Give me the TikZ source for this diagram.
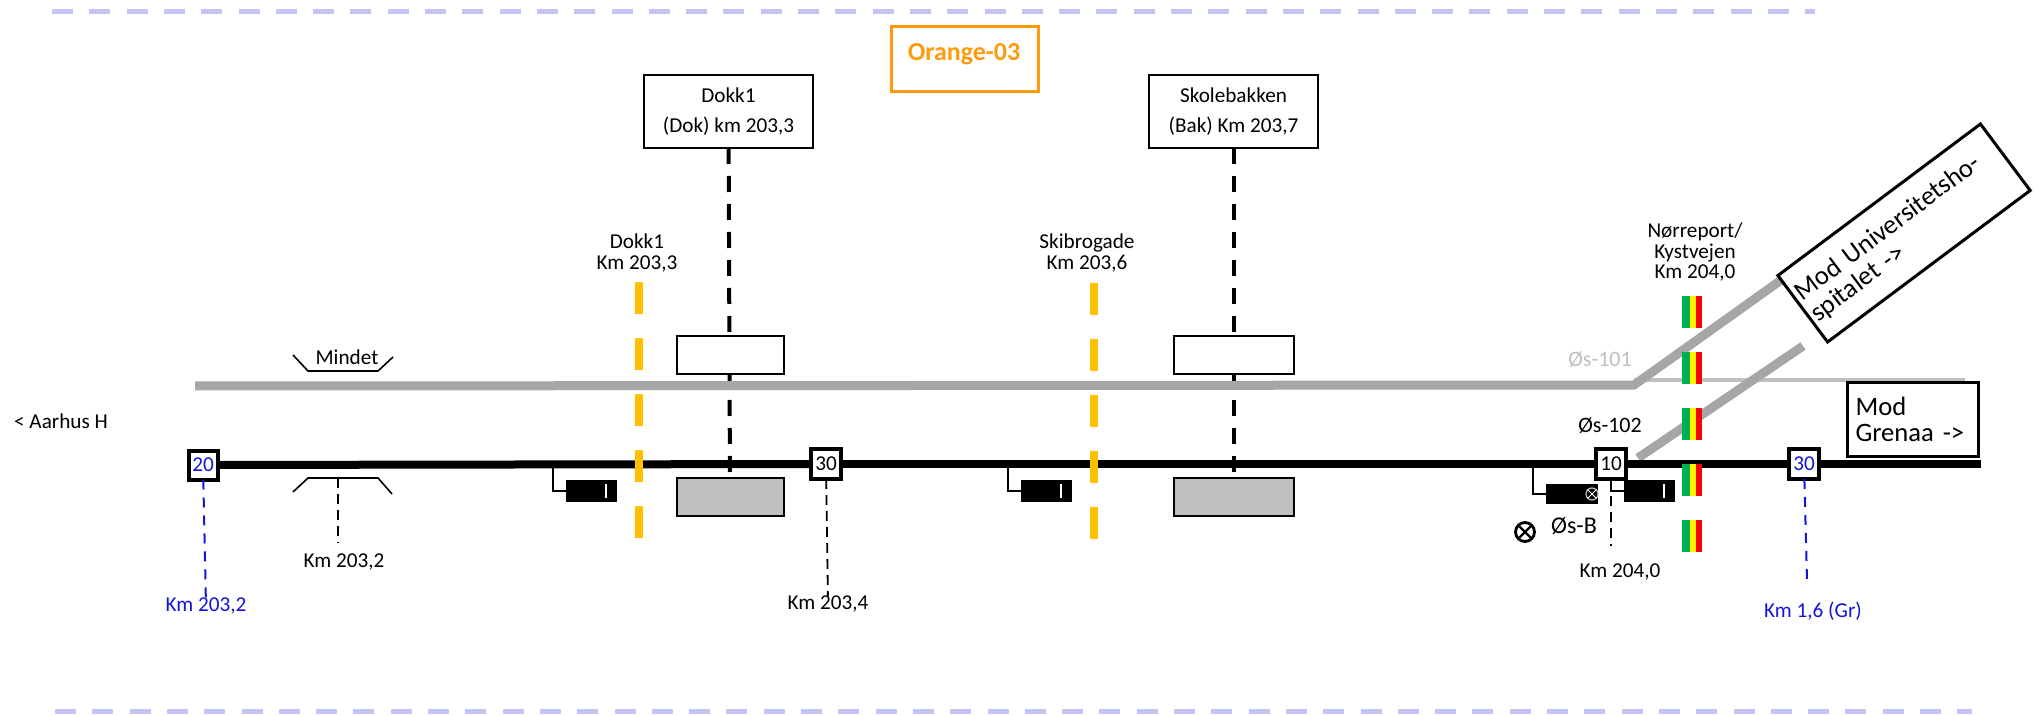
\documentclass[tikz,border=0pt]{standalone}
\usepackage{fontspec}
\setmainfont{Carlito}
\usepackage{tikz}
\usetikzlibrary{positioning}
\definecolor{zonecol}{HTML}{C4C4F6}
\definecolor{orangecol}{HTML}{FF9A0D}
\definecolor{ambercol}{HTML}{FFC000}
\definecolor{trackgray}{HTML}{A6A6A6}
\definecolor{palegray}{HTML}{BFBFBF}
\definecolor{kmblue}{HTML}{1414D8}
\definecolor{siggreen}{HTML}{00B050}
\newcommand{\sz}[1]{\fontsize{#1}{#1}\selectfont}
\tikzstyle{every node}=[font=\sz{10.6},inner sep=0pt,outer sep=0pt]
\tikzstyle{zone}=[zonecol,line width=2.5pt,dash pattern=on 10.5pt off 8.15pt]
\tikzstyle{station}=[draw,line width=1.25pt,fill=white,rectangle,minimum width=84.5pt,minimum height=36.5pt,align=center]
\tikzstyle{platform}=[draw,line width=1pt,rectangle,minimum height=19pt]
\tikzstyle{post}=[draw,line width=2pt,fill=white,rectangle,minimum size=15pt]
\tikzstyle{signal}=[fill=black,rectangle,minimum width=25.5pt,minimum height=11pt]
\tikzstyle{lead}=[line width=.8pt]
\tikzstyle{stationline}=[line width=2pt,dash pattern=on 8pt off 6pt]
\tikzstyle{kmline}=[line width=.9pt,dash pattern=on 5pt off 3pt]
\tikzstyle{blueline}=[kmblue,line width=1pt,dash pattern=on 5pt off 4pt]
\tikzstyle{crossing}=[line width=4pt,dash pattern=on 16pt off 12pt]
\tikzstyle{branch}=[trackgray,line width=4.5pt]
\begin{document}
\begin{tikzpicture}[x=.5pt,y=-.5pt]
    \useasboundingbox (0,0) rectangle (2044,716);
    % zone limits
    \coordinate (zt1) at (52,12);
    \coordinate (zt2) at (1815,12);
    \coordinate (zb1) at (55,711);
    \coordinate (zb2) at (1972,711);
    \draw[zone] (zt1) -- (zt2);
    \draw[zone] (zb1) -- (zb2);
    \node[draw=orangecol,line width=1.5pt,minimum width=73.5pt,minimum height=32.5pt] (title) at (964.5,59.5) {};
    \node[orangecol,font=\sz{13}\bfseries] (titletext) at (964,54) {Orange-03};
    % stations
    \node[station] (dok) at (728.5,111.5) {Dokk1\\[4.6pt](Dok) km 203,3};
    \node[station] (bak) at (1233.5,111.5) {Skolebakken\\[4.6pt](Bak) Km 203,7};
    \node[platform,fill=palegray,minimum width=53.5pt] (dokb) at (730,497) {};
    \node[platform,fill=palegray,minimum width=60pt] (bakb) at (1233.5,497) {};
    \draw[stationline] (dok) -- (dokb);
    \draw[stationline] (bak) -- (bakb);
    \node[platform,fill=white,minimum width=53.5pt] (doka) at (730,355) {};
    \node[platform,fill=white,minimum width=60pt] (baka) at (1233.5,355) {};
    % upper track
    \coordinate (up0) at (195,386);
    \coordinate (sw) at (1634,385);
    \coordinate (sw2) at (1634,380);
    \coordinate (uni1) at (1798,268);
    \coordinate (uni2) at (1803,346);
    \coordinate (gren) at (1965,380);
    \coordinate (sw1) at (1638,458);
    \draw[palegray,line width=2pt] (sw2) -- (gren);
    \draw[branch] (up0) -- (sw) -- (uni1);
    \draw[branch] (sw1) -- (uni2);
    % lower track
    \node[post,text=kmblue,minimum size=14.5pt] (p20) at (203,465) {20};
    \node[post] (p30a) at (826,464) {30};
    \node[post] (p10) at (1611,464) {10};
    \node[post,text=kmblue] (p30b) at (1804,464) {30};
    \coordinate (low1) at (1981,464);
    \draw[line width=4pt] (p20) -- (p30a);
    \draw[line width=4pt] (p30a) -- (p10);
    \draw[line width=4pt] (p10) -- (p30b);
    \draw[line width=4pt] (p30b) -- (low1);
    % level crossings
    \coordinate (x1a) at (639,282);
    \coordinate (x1b) at (639,538);
    \coordinate (x2a) at (1094,283);
    \coordinate (x2b) at (1094,539);
    \draw[crossing,ambercol] (x1a) -- (x1b);
    \draw[crossing,ambercol] (x2a) -- (x2b);
    \foreach \sx/\sw/\col in {1686/4/siggreen,1693/3/yellow,1699/3/red}{
        \coordinate (sa) at (\sx,296);
        \coordinate (sb) at (\sx,552);
        \draw[crossing,line width=\sw pt,\col] (sa) -- (sb);
    }
    \node[align=center] (nor) at (1695,252) {Nørreport/\\[-.5pt]Kystvejen\\[-.5pt]Km 204,0};
    \node[align=center] (dokl) at (637,253) {Dokk1\\[-.5pt]Km 203,3};
    \node[align=center] (skil) at (1087,253) {Skibrogade\\[-.5pt]Km 203,6};
    % signals
    \node[signal] (s1) at (591.5,491) {};
    \node[signal] (s2) at (1046.5,491) {};
    \node[signal] (s3) at (1649.5,491) {};
    \node[signal,minimum width=26pt,minimum height=10pt] (s4) at (1572,494) {};
    \coordinate (l1) at (553,464);
    \coordinate (l2) at (1008,464);
    \coordinate (l4) at (1533,464);
    \draw[lead] (l1) |- (s1);
    \draw[lead] (l2) |- (s2);
    \draw[lead] (l4) |- (s4);
    \draw[lead] (p10) |- (s3);
    \foreach \bx in {606,1061,1664}{
        \node[fill=white,minimum width=1.3pt,minimum height=7pt] (bar) at (\bx,491) {};
    }
    \node[draw=white!75!black,fill=black,circle,line width=.6pt,minimum size=6pt] (s4m) at (1592,494) {};
    \draw[white,line width=.5pt] (s4m.north west) -- (s4m.south east);
    \draw[white,line width=.5pt] (s4m.north east) -- (s4m.south west);
    \node[draw,circle,line width=1.4pt,minimum size=9.5pt] (off) at (1525,532) {};
    \draw[line width=1.2pt] (off.north west) -- (off.south east);
    \draw[line width=1.2pt] (off.north east) -- (off.south west);
    \node[font=\sz{12}] (osb) at (1574,526) {Øs-B};
    % halt Mindet
    \draw[lead] (293,355) -- (308,371) -- (378,371) -- (393,357);
    \draw[lead] (293,492) -- (308,478) -- (378,478) -- (392,494);
    \node[] (mindet) at (347,357) {Mindet};
    \node[] (km1) at (344,562) {Km 203,2};
    \coordinate (m1) at (338,478);
    \coordinate (m2) at (338,543);
    \draw[kmline] (m1) -- (m2);
    % km marks
    \node[] (km2) at (828,604) {Km 203,4};
    \draw[kmline] (p30a) -- (km2);
    \node[] (km3) at (1620,572) {Km 204,0};
    \coordinate (k3a) at (1611,496);
    \coordinate (k3b) at (1611,546);
    \draw[kmline] (k3a) -- (k3b);
    \node[kmblue] (km4) at (206,606) {Km 203,2};
    \draw[blueline] (p20) -- (km4);
    \node[kmblue] (km5) at (1813,611) {Km 1,6 (Gr)};
    \coordinate (k5) at (1807,581);
    \draw[blueline] (p30b) -- (k5);
    % texts
    \node[] (aar) at (61,421) {< Aarhus H};
    \node[palegray,font=\sz{11}] (os101) at (1600,360) {Øs-101};
    \node[font=\sz{11}] (os102) at (1610,426) {Øs-102};
    \node[draw,line width=1.5pt,fill=white,minimum width=65.5pt,minimum height=36.5pt,font=\sz{13.3},align=left,text width=57pt] (mgr) at (1912.5,419.5) {Mod\\Grenaa ->};
    \node[draw,line width=1.5pt,fill=white,rotate=36.8,minimum width=126.5pt,minimum height=41.5pt,font=\sz{13.3},align=left,text width=122pt] (mun) at (1904,233) {Mod Universitetsho-\\spitalet ->};
\end{tikzpicture}
\end{document}
